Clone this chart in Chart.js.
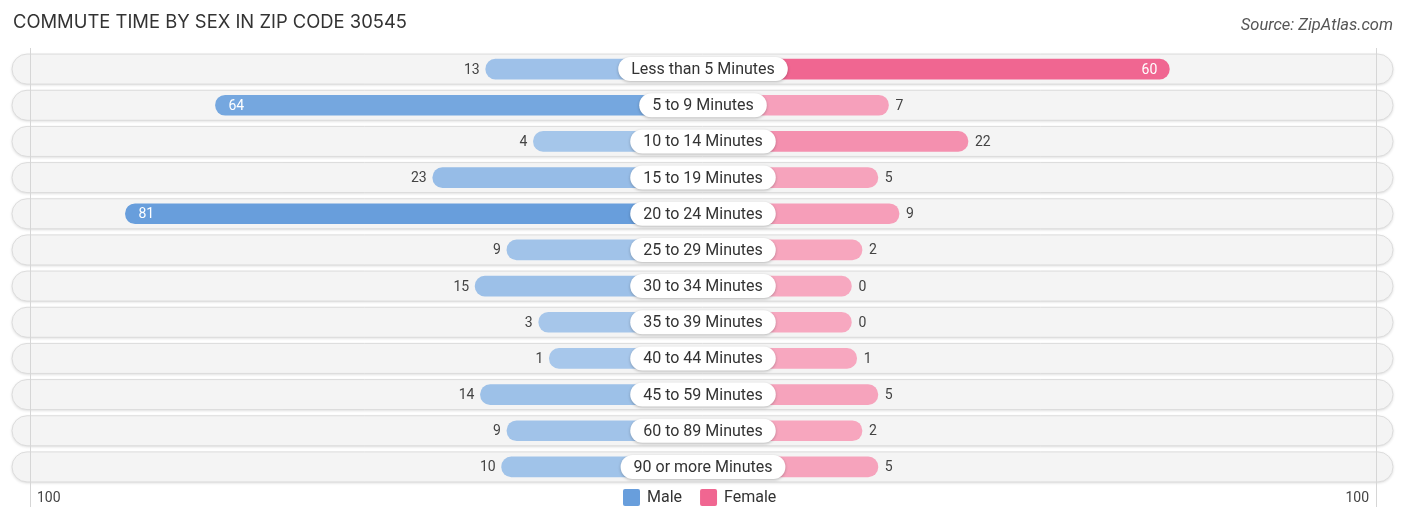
<!DOCTYPE html>
<html>
<head>
<meta charset="utf-8">
<script src="https://cdn.jsdelivr.net/npm/chart.js@4"></script>
<style>
  html, body { margin: 0; padding: 0; background: #fff; }
  #wrap { position: relative; width: 1406px; height: 523px; }
</style>
</head>
<body>
<div id="wrap"><canvas id="chart" width="1406" height="523"></canvas></div>
<script>
const categories = [
  'Less than 5 Minutes', '5 to 9 Minutes', '10 to 14 Minutes', '15 to 19 Minutes',
  '20 to 24 Minutes', '25 to 29 Minutes', '30 to 34 Minutes', '35 to 39 Minutes',
  '40 to 44 Minutes', '45 to 59 Minutes', '60 to 89 Minutes', '90 or more Minutes'
];
const maleValues = [13, 64, 4, 23, 81, 9, 15, 3, 1, 14, 9, 10];
const femaleValues = [60, 7, 22, 5, 9, 2, 0, 0, 1, 5, 2, 5];
const axisTickLabels = ['100', '100'];
const seriesNames = ['Male', 'Female'];

const TITLE = 'COMMUTE TIME BY SEX IN ZIP CODE 30545';
const SOURCE = 'Source: ZipAtlas.com';

// bars start behind the centre label, so every bar gets this extra length
const LABEL_GAP = 28;
const AXIS_HALF = 127;
const INSIDE_MIN = 30;

const COLORS = {
  maleLight: [168, 200, 235],
  maleStrong: [104, 158, 220],
  femaleLight: [247, 168, 192],
  femaleStrong: [240, 102, 145],
  text: '#333',
  value: '#444'
};

function mixColor(light, strong, t) {
  const c = light.map((l, i) => Math.round(l + (strong[i] - l) * t));
  return `rgb(${c[0]},${c[1]},${c[2]})`;
}

function barColors(values, light, strong) {
  const max = Math.max(...values);
  return values.map((v) => mixColor(light, strong, v / max));
}

function pill(ctx, x, y, w, h) {
  ctx.beginPath();
  ctx.roundRect(x, y, w, h, h / 2);
}

const decorPlugin = {
  id: 'decor',
  beforeDatasetsDraw(chart) {
    const { ctx, scales: { x, y } } = chart;
    ctx.save();
    categories.forEach((_, i) => {
      const cy = y.getPixelForValue(i);
      pill(ctx, 12, cy - 15, 1381, 30);
      ctx.shadowColor = 'rgba(0,0,0,0.16)';
      ctx.shadowBlur = 3;
      ctx.shadowOffsetY = 1;
      ctx.fillStyle = '#f4f4f4';
      ctx.fill();
      ctx.shadowColor = 'transparent';
      ctx.strokeStyle = '#dcdcdc';
      ctx.lineWidth = 1;
      ctx.stroke();
    });

    ctx.strokeStyle = '#d6d6d6';
    ctx.lineWidth = 1;
    [x.left, x.right].forEach((px) => {
      ctx.beginPath();
      ctx.moveTo(Math.round(px) + 0.5, 48);
      ctx.lineTo(Math.round(px) + 0.5, 507);
      ctx.stroke();
    });
    ctx.restore();
  },
  afterDatasetsDraw(chart) {
    const { ctx, scales: { x, y } } = chart;
    const cx = x.getPixelForValue(0);
    ctx.save();
    ctx.textBaseline = 'middle';

    categories.forEach((label, i) => {
      const cy = y.getPixelForValue(i);

      // centre label pill
      ctx.font = '16px Roboto';
      const tw = ctx.measureText(label).width;
      const pw = tw + 26;
      pill(ctx, cx - pw / 2, cy - 12, pw, 24);
      ctx.shadowColor = 'rgba(0,0,0,0.25)';
      ctx.shadowBlur = 3;
      ctx.shadowOffsetY = 1;
      ctx.fillStyle = '#fff';
      ctx.fill();
      ctx.shadowColor = 'transparent';
      ctx.fillStyle = COLORS.text;
      ctx.textAlign = 'center';
      ctx.fillText(label, cx, cy + 1);

      // value labels
      ctx.font = '14px Roboto';
      const m = maleValues[i];
      const mx = x.getPixelForValue(-(LABEL_GAP + m));
      if (m >= INSIDE_MIN) {
        ctx.fillStyle = '#fff';
        ctx.textAlign = 'left';
        ctx.fillText(String(m), mx + 13, cy + 1);
      } else {
        ctx.fillStyle = COLORS.value;
        ctx.textAlign = 'right';
        ctx.fillText(String(m), mx - 6, cy + 1);
      }
      const f = femaleValues[i];
      const fx = x.getPixelForValue(LABEL_GAP + f);
      if (f >= INSIDE_MIN) {
        ctx.fillStyle = '#fff';
        ctx.textAlign = 'right';
        ctx.fillText(String(f), fx - 12, cy + 1);
      } else {
        ctx.fillStyle = COLORS.value;
        ctx.textAlign = 'left';
        ctx.fillText(String(f), fx + 7, cy + 1);
      }
    });

    // axis end labels
    ctx.font = '14px Roboto';
    ctx.fillStyle = COLORS.value;
    ctx.textAlign = 'left';
    ctx.fillText(axisTickLabels[0], x.left + 7, 498);
    ctx.textAlign = 'right';
    ctx.fillText(axisTickLabels[1], x.right - 7, 498);

    // legend
    const legendColors = [mixColor(COLORS.maleLight, COLORS.maleStrong, 1),
      mixColor(COLORS.femaleLight, COLORS.femaleStrong, 1)];
    ctx.font = '16px Roboto';
    ctx.textAlign = 'left';
    let lx = 623;
    seriesNames.forEach((name, i) => {
      ctx.beginPath();
      ctx.roundRect(lx, 489, 17, 17, 2);
      ctx.fillStyle = legendColors[i];
      ctx.fill();
      ctx.fillStyle = COLORS.text;
      ctx.fillText(name, lx + 24, 498);
      lx += 24 + ctx.measureText(name).width + 18;
    });

    // title and source
    ctx.textBaseline = 'alphabetic';
    ctx.font = '18.4px Inter';
    ctx.fillStyle = COLORS.text;
    ctx.textAlign = 'left';
    ctx.fillText(TITLE, 13, 28);
    ctx.font = 'italic 16.5px Roboto';
    ctx.fillStyle = '#555';
    ctx.textAlign = 'right';
    ctx.fillText(SOURCE, 1393, 30);
    ctx.restore();
  }
};

new Chart(document.getElementById('chart'), {
  type: 'bar',
  data: {
    labels: categories,
    datasets: [
      {
        label: seriesNames[0],
        data: maleValues.map((v) => [-(LABEL_GAP + v), 0]),
        backgroundColor: barColors(maleValues, COLORS.maleLight, COLORS.maleStrong),
        borderRadius: 10,
        borderSkipped: false,
        barThickness: 20,
        grouped: false
      },
      {
        label: seriesNames[1],
        data: femaleValues.map((v) => [0, LABEL_GAP + v]),
        backgroundColor: barColors(femaleValues, COLORS.femaleLight, COLORS.femaleStrong),
        borderRadius: 10,
        borderSkipped: false,
        barThickness: 20,
        grouped: false
      }
    ]
  },
  options: {
    indexAxis: 'y',
    responsive: false,
    animation: false,
    layout: { padding: { left: 30, right: 30, top: 51, bottom: 38 } },
    scales: {
      x: { display: false, min: -AXIS_HALF, max: AXIS_HALF },
      y: { display: false }
    },
    plugins: {
      legend: { display: false },
      tooltip: { enabled: false }
    }
  },
  plugins: [decorPlugin]
});
</script>
</body>
</html>
